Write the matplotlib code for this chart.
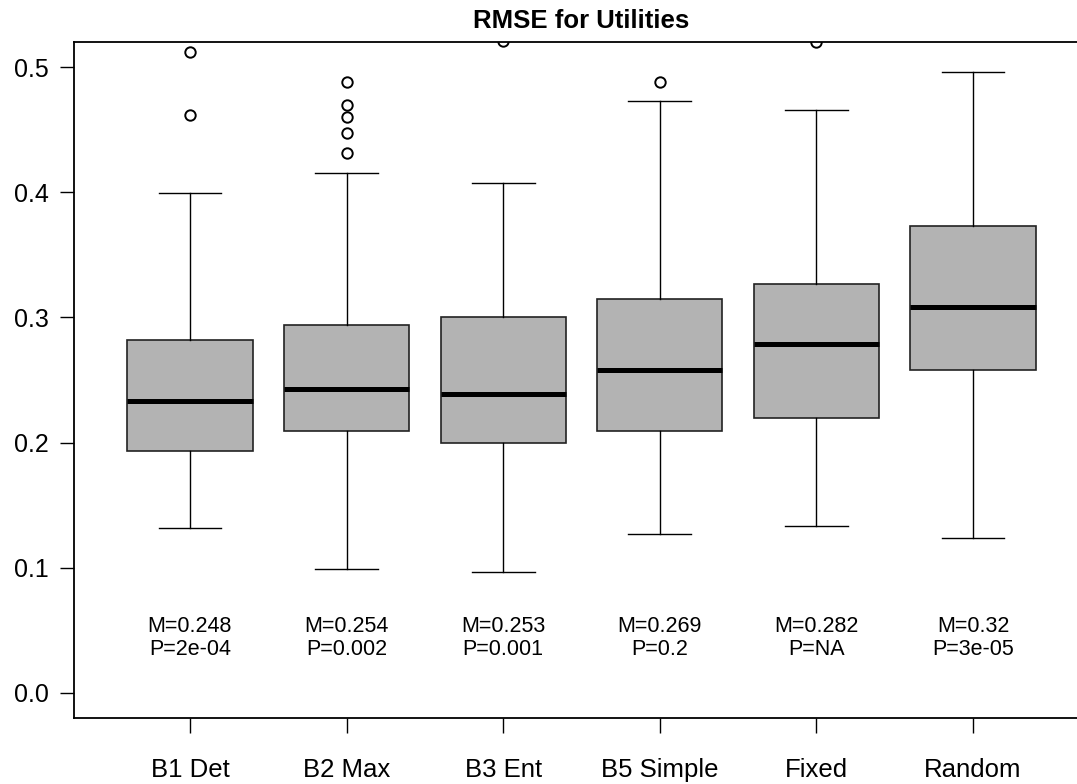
import matplotlib
matplotlib.use("Agg")
import matplotlib.pyplot as plt

plt.rcParams['font.family'] = ['Liberation Sans', 'DejaVu Sans']

labels = ["B1 Det", "B2 Max", "B3 Ent", "B5 Simple", "Fixed", "Random"]
whislo = [0.132, 0.099, 0.097, 0.127, 0.133, 0.124]
q1 = [0.193, 0.209, 0.200, 0.209, 0.220, 0.258]
med = [0.233, 0.243, 0.239, 0.258, 0.279, 0.308]
q3 = [0.282, 0.294, 0.300, 0.315, 0.327, 0.373]
whishi = [0.399, 0.415, 0.407, 0.473, 0.466, 0.496]
fliers = [
    [0.512, 0.462],
    [0.488, 0.470, 0.460, 0.447, 0.431],
    [0.521],
    [0.488],
    [0.520],
    [],
]
means = ["0.248", "0.254", "0.253", "0.269", "0.282", "0.32"]
pvals = ["2e-04", "0.002", "0.001", "0.2", "NA", "3e-05"]

stats = []
for i in range(len(labels)):
    stats.append({
        'label': labels[i],
        'whislo': whislo[i],
        'q1': q1[i],
        'med': med[i],
        'q3': q3[i],
        'whishi': whishi[i],
        'fliers': fliers[i],
    })

fig = plt.figure(figsize=(10.77, 7.84), dpi=100)
# right edge of the plot box sits outside the picture, as in the original
ax = fig.add_axes([74 / 1077, 66 / 784, 1015 / 1077, 676 / 784])

positions = list(range(1, len(labels) + 1))
ax.bxp(
    stats,
    positions=positions,
    widths=0.8,
    patch_artist=True,
    boxprops=dict(facecolor='#b3b3b3', edgecolor='#222222', linewidth=1.2),
    medianprops=dict(color='black', linewidth=3.6, solid_capstyle='butt'),
    whiskerprops=dict(color='black', linewidth=1.0),
    capprops=dict(color='black', linewidth=1.0),
    capwidths=0.4,
    flierprops=dict(marker='o', markerfacecolor='white', markeredgecolor='black',
                    markersize=7.5, markeredgewidth=1.4, linestyle='none'),
)

for i in range(len(labels)):
    ax.text(positions[i], 0.044, "M=" + means[i] + "\nP=" + pvals[i],
            ha='center', va='center', fontsize=15.5, linespacing=1.15)

ax.set_xlim(0.26, 6.74)
ax.set_ylim(-0.02, 0.52)
ax.set_yticks([0.0, 0.1, 0.2, 0.3, 0.4, 0.5])
ax.set_yticklabels(["0.0", "0.1", "0.2", "0.3", "0.4", "0.5"])
ax.set_xticks(positions)
ax.set_xticklabels(labels)

ax.tick_params(axis='y', labelsize=18, length=10, width=1.0, pad=8)
ax.tick_params(axis='x', labelsize=18.5, length=11, width=1.0, pad=18)

for side in ['left', 'bottom', 'top']:
    ax.spines[side].set_linewidth(1.3)
ax.spines['right'].set_visible(False)

ax.set_title("RMSE for Utilities", fontsize=18.5, fontweight='bold', pad=10)

fig.savefig("out.png", dpi=100)
